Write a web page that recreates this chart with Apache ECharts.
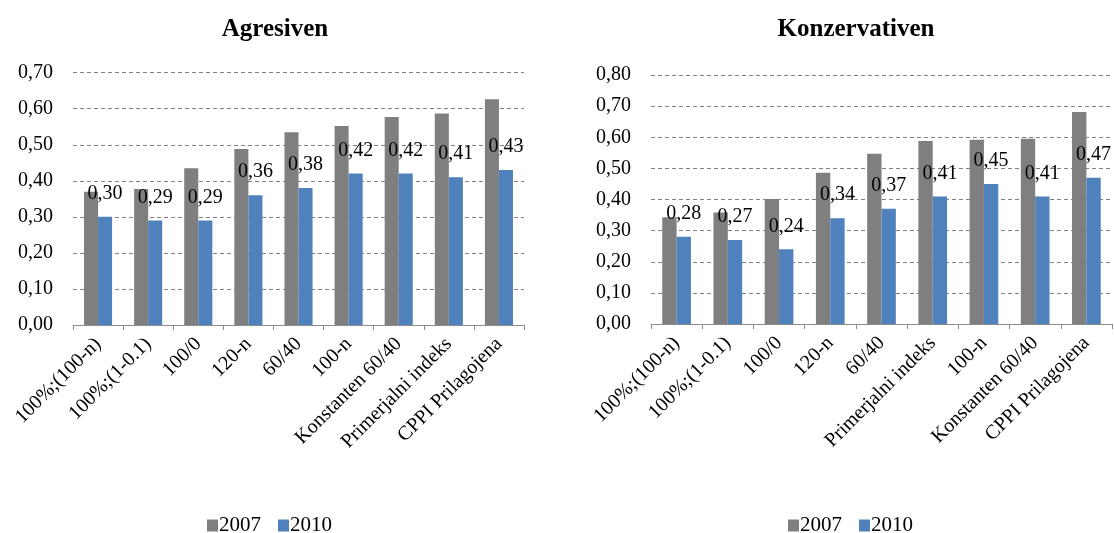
<!DOCTYPE html>
<html>
<head>
<meta charset="utf-8">
<script src="https://cdn.jsdelivr.net/npm/echarts@6/dist/echarts.min.js"></script>
<style>
  html, body { margin: 0; padding: 0; background: #fff; }
  #chart { width: 1114px; height: 533px; }
</style>
</head>
<body>
<div id="chart"></div>
<script>
// Aggressive strategies
const aggCategories = ['100%;(100-n)', '100%;(1-0.1)', '100/0', '120-n', '60/40', '100-n', 'Konstanten 60/40', 'Primerjalni indeks', 'CPPI Prilagojena'];
const agg2007 = [0.37, 0.377, 0.435, 0.488, 0.535, 0.552, 0.577, 0.587, 0.626];
const agg2010 = [0.30, 0.29, 0.29, 0.36, 0.38, 0.42, 0.42, 0.41, 0.43];

// Conservative strategies
const conCategories = ['100%;(100-n)', '100%;(1-0.1)', '100/0', '120-n', '60/40', 'Primerjalni indeks', '100-n', 'Konstanten 60/40', 'CPPI Prilagojena'];
const con2007 = [0.343, 0.358, 0.402, 0.486, 0.547, 0.588, 0.592, 0.595, 0.681];
const con2010 = [0.28, 0.27, 0.24, 0.34, 0.37, 0.41, 0.45, 0.41, 0.47];

const seriesNames = ['2007', '2010'];
const titles = ['Agresiven', 'Konzervativen'];

const FONT = '"Liberation Serif", "Times New Roman", serif';
const GRAY = '#7f7f7f';
const BLUE = '#4f81bd';
const comma = v => v.toFixed(2).replace('.', ',');

function xAxis(gridIndex, cats) {
  return {
    type: 'category', gridIndex, data: cats,
    axisLine: { lineStyle: { color: '#8c8c8c', width: 1 } },
    axisTick: { show: true, alignWithLabel: false, length: 5, lineStyle: { color: '#8c8c8c' } },
    axisLabel: { rotate: 45, interval: 0, margin: 16, color: '#000', fontFamily: FONT, fontSize: 20 }
  };
}
function yAxis(gridIndex, max) {
  return {
    type: 'value', gridIndex, min: 0, max, interval: 0.1,
    axisLine: { show: false }, axisTick: { show: false },
    axisLabel: { formatter: comma, color: '#000', fontFamily: FONT, fontSize: 20, margin: 20 },
    splitLine: { lineStyle: { color: '#7f7f7f', type: [4, 3], width: 1 } }
  };
}
function bars(name, data, idx, color, withLabel) {
  return {
    name, type: 'bar', data, xAxisIndex: idx, yAxisIndex: idx,
    barGap: '0%', barCategoryGap: '44%',
    itemStyle: { color },
    label: withLabel ? {
      show: true, position: 'top', distance: 13, formatter: p => comma(p.value),
      color: '#000', fontFamily: FONT, fontSize: 20
    } : { show: false }
  };
}
function legend(left) {
  return {
    data: seriesNames, left, top: 515, padding: 0, itemWidth: 11, itemHeight: 12, itemGap: 17,
    icon: 'rect', selectedMode: false,
    textStyle: { fontFamily: FONT, fontSize: 21, color: '#000', padding: [0, 0, 0, -4] }
  };
}

const chart = echarts.init(document.getElementById('chart'), null, { renderer: 'canvas' });
chart.setOption({
  animation: false,
  title: [
    { text: titles[0], left: 270, top: 12, textAlign: 'center',
      textStyle: { fontFamily: FONT, fontSize: 25, fontWeight: 'bold', color: '#000' } },
    { text: titles[1], left: 851, top: 12, textAlign: 'center',
      textStyle: { fontFamily: FONT, fontSize: 25, fontWeight: 'bold', color: '#000' } }
  ],
  // One legend under each panel
  legend: [legend(207), legend(788)],
  grid: [
    { left: 73, right: 590, top: 72.7, bottom: 208 },
    { left: 651, right: 2, top: 75, bottom: 209 }
  ],
  xAxis: [xAxis(0, aggCategories), xAxis(1, conCategories)],
  yAxis: [yAxis(0, 0.7), yAxis(1, 0.8)],
  series: [
    bars(seriesNames[0], agg2007, 0, GRAY, false),
    bars(seriesNames[1], agg2010, 0, BLUE, true),
    bars(seriesNames[0], con2007, 1, GRAY, false),
    bars(seriesNames[1], con2010, 1, BLUE, true)
  ]
});
</script>
</body>
</html>
